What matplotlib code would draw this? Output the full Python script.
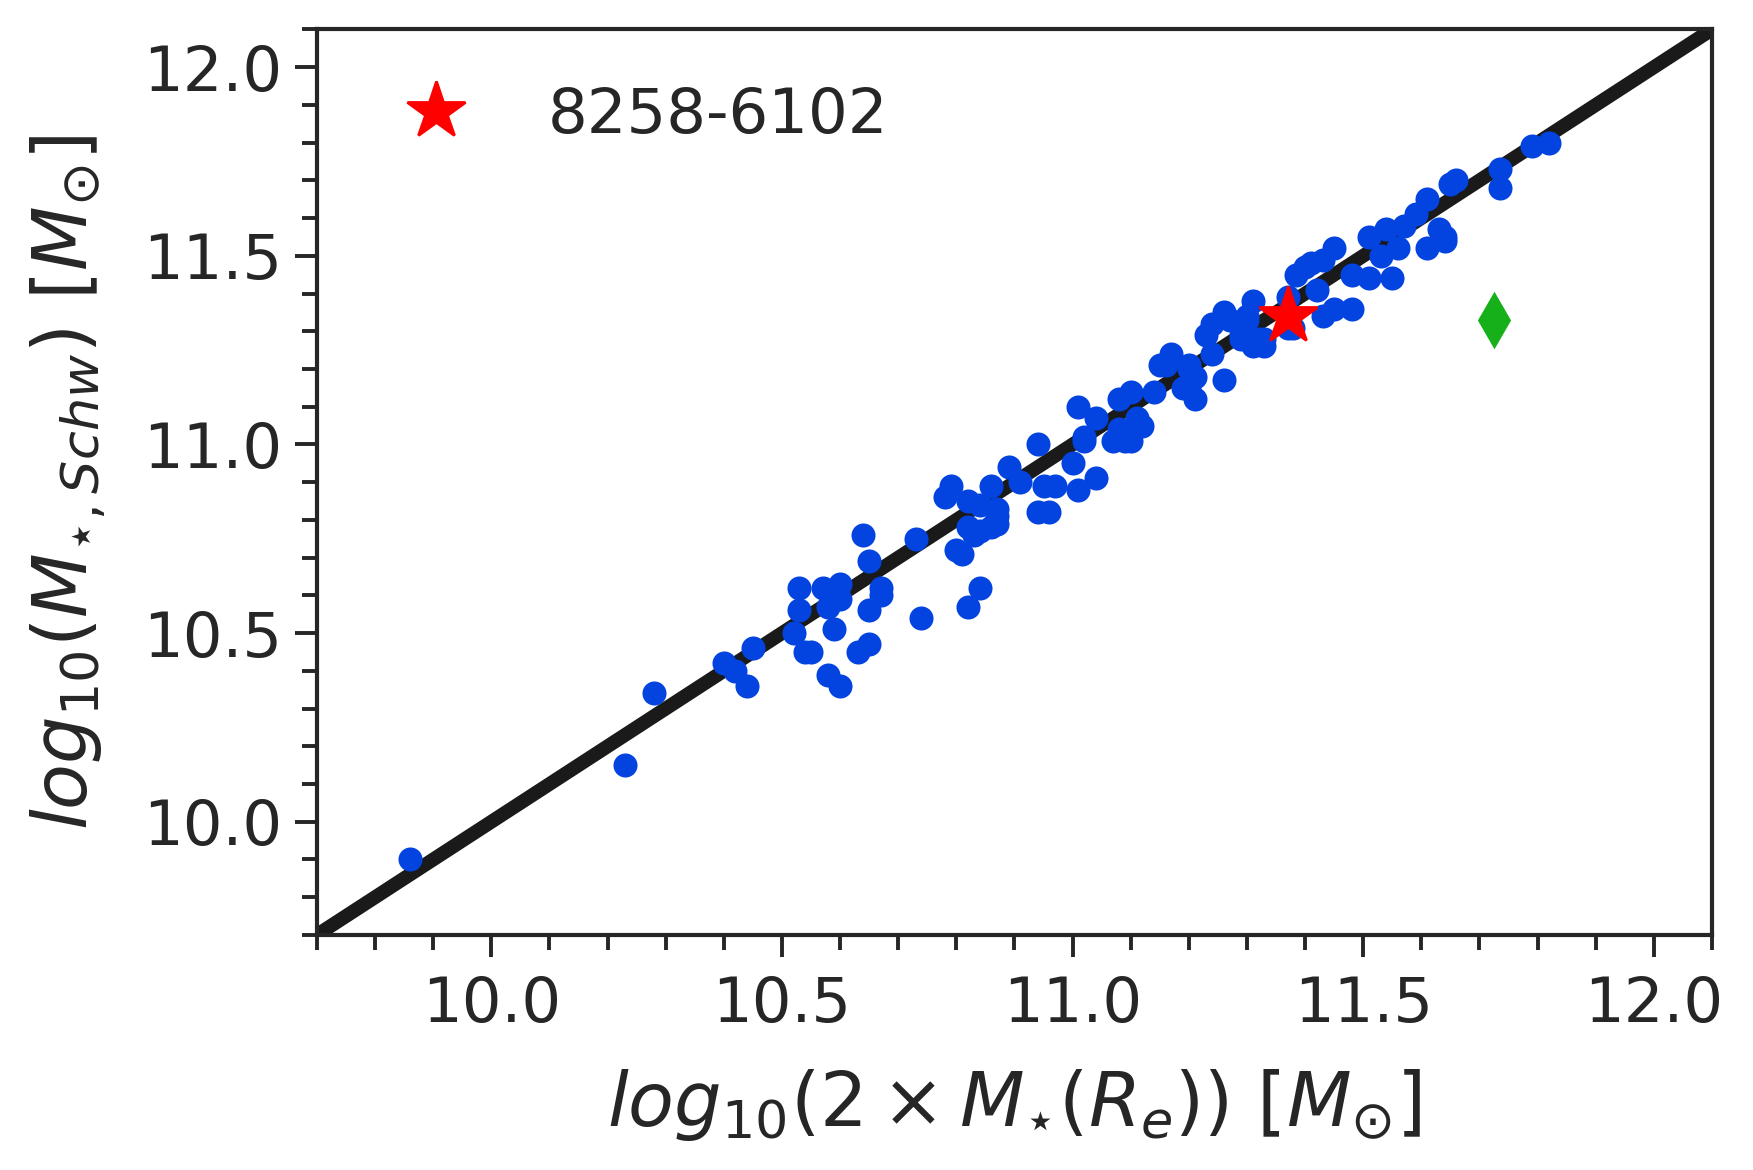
import matplotlib
matplotlib.use("Agg")
import matplotlib.pyplot as plt

# galaxy sample: 2 x M*(Re) vs Schwarzschild stellar mass (log10 Msun)
mass_re2 = [
    9.86, 10.23, 10.28, 10.40, 10.42, 10.45, 10.44, 10.53, 10.57, 10.60,
    10.53, 10.52, 10.58, 10.60, 10.59, 10.54, 10.55, 10.58, 10.60, 10.63,
    10.65, 10.65, 10.67, 10.67, 10.65, 10.64, 10.73, 10.74,
    10.82, 10.84, 10.81, 10.80, 10.79, 10.78, 10.82, 10.84, 10.87, 10.87,
    10.83, 10.84, 10.82, 10.86, 10.86, 10.89, 10.87, 10.94, 10.91, 10.95,
    10.97, 10.94, 10.96, 11.01, 11.04, 11.00, 11.02, 11.01, 11.04, 11.02,
    11.08, 11.10, 11.07, 11.09, 11.10, 11.12, 11.11, 11.08, 11.14, 11.16,
    11.17, 11.15, 11.20, 11.20, 11.21, 11.19, 11.20, 11.21, 11.26, 11.23,
    11.24, 11.24, 11.26, 11.29, 11.29, 11.31, 11.31, 11.30, 11.32, 11.33,
    11.33, 11.27, 11.30, 11.37, 11.38, 11.37, 11.385,
    11.40, 11.41, 11.42, 11.43, 11.45, 11.43, 11.45, 11.48, 11.48, 11.51,
    11.55, 11.51, 11.54, 11.56, 11.57, 11.59, 11.61, 11.63, 11.61, 11.64,
    11.64, 11.65, 11.66, 11.735, 11.735, 11.79, 11.82, 11.53,
]
mass_schw = [
    9.90, 10.15, 10.34, 10.42, 10.40, 10.46, 10.36, 10.62, 10.62, 10.63,
    10.56, 10.50, 10.57, 10.59, 10.51, 10.45, 10.45, 10.39, 10.36, 10.45,
    10.47, 10.56, 10.62, 10.60, 10.69, 10.76, 10.75, 10.54,
    10.57, 10.62, 10.71, 10.72, 10.89, 10.86, 10.85, 10.84, 10.83, 10.79,
    10.76, 10.77, 10.78, 10.78, 10.89, 10.94, 10.81, 11.00, 10.90, 10.89,
    10.89, 10.82, 10.82, 10.88, 10.91, 10.95, 11.02, 11.10, 11.07, 11.01,
    11.12, 11.14, 11.01, 11.01, 11.01, 11.05, 11.07, 11.04, 11.14, 11.21,
    11.24, 11.21, 11.20, 11.21, 11.12, 11.15, 11.15, 11.18, 11.17, 11.29,
    11.32, 11.24, 11.35, 11.29, 11.28, 11.26, 11.38, 11.34, 11.28, 11.26,
    11.28, 11.33, 11.33, 11.31, 11.31, 11.39, 11.45,
    11.47, 11.48, 11.41, 11.49, 11.52, 11.34, 11.36, 11.36, 11.45, 11.44,
    11.44, 11.55, 11.57, 11.52, 11.58, 11.61, 11.65, 11.57, 11.52, 11.54,
    11.55, 11.69, 11.70, 11.73, 11.68, 11.79, 11.80, 11.50,
]

# highlighted galaxy and the outlier
star_name = "8258-6102"
star_x, star_y = 11.37, 11.34
outlier_x, outlier_y = 11.725, 11.33

axis_range = [9.7, 12.1]
major_ticks = [10.0, 10.5, 11.0, 11.5, 12.0]

DARK = "#262626"
plt.rcParams.update({
    "font.family": "DejaVu Sans",
    "mathtext.fontset": "dejavusans",
    "text.color": DARK,
    "axes.edgecolor": DARK,
    "axes.labelcolor": DARK,
    "xtick.color": DARK,
    "ytick.color": DARK,
    "axes.linewidth": 1.5,
    "xtick.direction": "out",
    "ytick.direction": "out",
    "xtick.major.size": 8,
    "ytick.major.size": 8,
    "xtick.minor.size": 5.4,
    "ytick.minor.size": 5.4,
    "xtick.major.width": 1.4,
    "ytick.major.width": 1.4,
    "xtick.minor.width": 1.4,
    "ytick.minor.width": 1.4,
})

fig = plt.figure(figsize=(8.765, 5.85), dpi=200)
ax = fig.add_axes([0.1808, 0.2009, 0.7958, 0.7739])

ax.plot(axis_range, axis_range, color="#1a1a1a", lw=5, zorder=2)
ax.scatter(mass_re2, mass_schw, s=75, color="#0343df", linewidths=0, zorder=3)
ax.plot(star_x, star_y, marker="*", ms=21.6, color="red", ls="none",
        zorder=4, label=star_name)
ax.plot(outlier_x, outlier_y, marker="d", ms=13, color="#15b01a",
        ls="none", zorder=4)

ax.set_xlim(axis_range)
ax.set_ylim(axis_range)
ax.set_xticks(major_ticks)
ax.set_yticks(major_ticks)
ax.set_xticks([v / 10 for v in range(97, 122)], minor=True)
ax.set_yticks([v / 10 for v in range(97, 122)], minor=True)
ax.tick_params(labelsize=22.5)
ax.tick_params(axis="x", which="major", pad=6.5)
ax.tick_params(axis="y", which="major", pad=4.5)

ax.set_xlabel(r"$log_{10}(2 \times M_{\star}(R_e))$ $[M_{\odot}]$",
              fontsize=27, labelpad=11.5)
ax.set_ylabel(r"$log_{10}(M_{\star,Schw})$ $[M_{\odot}]$",
              fontsize=27, labelpad=13)

ax.legend(loc="upper left", frameon=False, fontsize=22.5, numpoints=1)

fig.savefig("out.png", dpi=200)
